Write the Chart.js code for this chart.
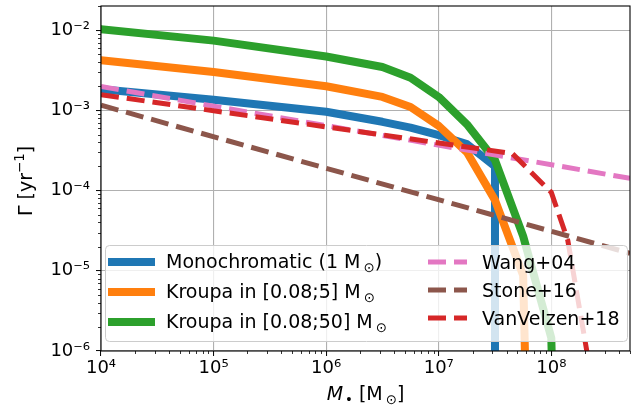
<!DOCTYPE html>
<html>
<head>
<meta charset="utf-8">
<script src="https://cdn.jsdelivr.net/npm/chart.js@4.4.0/dist/chart.umd.min.js"></script>
<style>
    html, body { margin: 0; padding: 0; background: #fff; }
</style>
</head>
<body>
<canvas id="rateChart" width="644" height="408"></canvas>
<script>
// Black hole mass [M_sun] and disruption rate [1/yr] per model
const massMono = [1e4, 1e5, 1e6, 3.16e6, 5.62e6, 1e7, 1.78e7, 3.16e7, 3.16e7];
const rateMono = [1.83e-3, 1.36e-3, 9.6e-4, 7.2e-4, 6.1e-4, 4.9e-4, 3.8e-4, 2.0e-4, 1e-20];

const massKroupa5 = [1e4, 1e5, 1e6, 3.16e6, 5.62e6, 1e7, 1.78e7, 3.16e7, 5.62e7, 1e8];
const rateKroupa5 = [4.22e-3, 3.0e-3, 2.0e-3, 1.47e-3, 1.1e-3, 6.4e-4, 3.0e-4, 7.6e-5, 8.8e-6, 1e-20];

const massKroupa50 = [1e4, 1e5, 1e6, 3.16e6, 5.62e6, 1e7, 1.78e7, 3.16e7, 5.62e7, 1e8, 1.78e8];
const rateKroupa50 = [1.03e-2, 7.4e-3, 4.7e-3, 3.47e-3, 2.55e-3, 1.47e-3, 6.7e-4, 2.4e-4, 2.7e-5, 1.45e-6, 1e-20];

const massWang = [1e4, 5e8];
const rateWang = [1.98e-3, 1.42e-4];

const massStone = [1e4, 5e8];
const rateStone = [1.16e-3, 1.65e-5];

const massVanVelzen = [1e4, 4.5e7, 1e8, 1.4e8, 2.2e8];
const rateVanVelzen = [1.57e-3, 2.9e-4, 9.5e-5, 2.4e-5, 6e-7];

const seriesLabels = ['Monochromatic (1 M⊙)', 'Kroupa in [0.08;5] M⊙', 'Kroupa in [0.08;50] M⊙',
                      'Wang+04', 'Stone+16', 'VanVelzen+18'];

// Axis decades that get a label and a grid line
const xDecades = [1e4, 1e5, 1e6, 1e7, 1e8];
const yDecades = [1e-6, 1e-5, 1e-4, 1e-3, 1e-2];

const FONT = "'DejaVu Sans', sans-serif";
const SUP = {'-': '⁻', '0': '⁰', '1': '¹', '2': '²', '3': '³', '4': '⁴', '5': '⁵', '6': '⁶', '7': '⁷', '8': '⁸', '9': '⁹'};

function isDecade(v) {
    const e = Math.log10(v);
    return Math.abs(e - Math.round(e)) < 1e-9;
}

function decadeLabel(v) {
    const e = String(Math.round(Math.log10(v)));
    return '10' + e.split('').map(c => SUP[c]).join('');
}

// major decades plus 2..9 minor ticks, clipped to the axis range
function logTicks(decades, max) {
    const ticks = [];
    decades.forEach(d => {
        for (let m = 1; m <= 9; m++) {
            const v = m * d;
            if (v <= max * 1.0001) ticks.push({ value: v });
        }
    });
    return ticks;
}

function points(xs, ys) {
    return xs.map((x, i) => ({ x: x, y: ys[i] }));
}

// Draw text made of pieces; sub/sup pieces are smaller and shifted
function drawRich(ctx, parts, x, y, size, measureOnly) {
    let cx = x;
    parts.forEach(p => {
        const s = (p.sub || p.sup) ? size * 0.7 : size;
        ctx.font = (p.italic ? 'italic ' : '') + s + 'px ' + FONT;
        const dy = p.sub ? size * 0.22 : (p.sup ? -size * 0.4 : 0);
        cx += p.gap || 0;
        if (!measureOnly) ctx.fillText(p.t, cx, y + dy);
        cx += ctx.measureText(p.t).width;
    });
    return cx - x;
}

// split a label so the sun symbol is set as a subscript
function solarParts(label, gap) {
    const parts = [];
    label.split('⊙').forEach((chunk, i) => {
        if (i > 0) parts.push({ t: '⊙', sub: true, gap: gap });
        if (chunk) parts.push({ t: chunk });
    });
    return parts;
}

// Legend box inside the plot, two columns like matplotlib's ncol=2
const legendBox = {
    id: 'legendBox',
    afterDatasetsDraw(chart) {
        const ctx = chart.ctx;
        const a = chart.chartArea;
        const left = a.left + 4, right = a.right - 3;
        const bottom = a.bottom - 10, top = bottom - 96;

        ctx.save();
        ctx.beginPath();
        ctx.roundRect(left + 0.5, top + 0.5, right - left, bottom - top, 4);
        ctx.fillStyle = 'rgba(255,255,255,0.8)';
        ctx.fill();
        ctx.strokeStyle = '#cccccc';
        ctx.lineWidth = 1;
        ctx.stroke();

        const cols = [
            { hx: left + 7, tx: left + 61, rows: [17, 47, 77], base: 6 },
            { hx: left + 323, tx: left + 377, rows: [17, 45, 73], base: 7 }
        ];
        chart.data.datasets.forEach((ds, i) => {
            const col = cols[Math.floor(i / 3)];
            const hy = top + col.rows[i % 3];
            ctx.beginPath();
            ctx.strokeStyle = ds.borderColor;
            ctx.lineWidth = ds.borderWidth;
            ctx.lineCap = ds.borderCapStyle;
            ctx.setLineDash(ds.borderDash || []);
            ctx.moveTo(col.hx, hy);
            ctx.lineTo(col.hx + 39, hy);
            ctx.stroke();
            ctx.setLineDash([]);

            ctx.fillStyle = '#000';
            ctx.textBaseline = 'alphabetic';
            ctx.textAlign = 'left';
            drawRich(ctx, solarParts(ds.label, 3), col.tx, hy + col.base, 19);
        });
        ctx.restore();
    }
};

// Axis frame, short minor ticks and the two axis titles
const frameAndTitles = {
    id: 'frameAndTitles',
    afterDraw(chart) {
        const { ctx, chartArea: a, scales: { x, y } } = chart;
        ctx.save();
        ctx.strokeStyle = '#000';
        ctx.lineWidth = 0.8;
        ctx.beginPath();
        x.ticks.forEach(t => {
            if (isDecade(t.value)) return;
            const px = Math.round(x.getPixelForValue(t.value)) + 0.5;
            ctx.moveTo(px, a.bottom);
            ctx.lineTo(px, a.bottom + 3);
        });
        y.ticks.forEach(t => {
            if (isDecade(t.value)) return;
            const py = Math.round(y.getPixelForValue(t.value)) + 0.5;
            ctx.moveTo(a.left, py);
            ctx.lineTo(a.left - 3, py);
        });
        ctx.stroke();

        ctx.lineWidth = 1.1;
        ctx.strokeRect(a.left, a.top, a.right - a.left, a.bottom - a.top);

        ctx.fillStyle = '#000';
        ctx.textBaseline = 'alphabetic';
        ctx.textAlign = 'left';

        // x title: M_bullet [M_sun]
        const xParts = [{ t: 'M', italic: true }, { t: '•', sub: true, gap: 2 }, { t: ' [M' },
                        { t: '⊙', sub: true, gap: 3 }, { t: ']' }];
        const xw = drawRich(ctx, xParts, 0, 0, 19, true);
        drawRich(ctx, xParts, (a.left + a.right) / 2 - xw / 2, 400, 19);

        // y title: Gamma [yr^-1]
        const yParts = [{ t: 'Γ [yr' }, { t: '−1', sup: true }, { t: ']' }];
        const yw = drawRich(ctx, yParts, 0, 0, 19, true);
        ctx.translate(32, 181);
        ctx.rotate(-Math.PI / 2);
        drawRich(ctx, yParts, -yw / 2, 0, 19);
        ctx.restore();
    }
};

function axisOptions(decades, max, size) {
    return {
        type: 'logarithmic',
        afterBuildTicks: scale => { scale.ticks = logTicks(decades, max); },
        afterFit: scale => {
            if (scale.isHorizontal()) scale.height = size;
            else scale.width = size;
            // keep the plot area fixed, labels may overhang
            scale.paddingTop = 0;
            scale.paddingBottom = 0;
            scale.paddingLeft = 0;
            scale.paddingRight = 0;
        },
        border: { display: false },
        grid: {
            color: c => (c.tick && isDecade(c.tick.value)) ? '#b0b0b0' : 'rgba(0,0,0,0)',
            lineWidth: 1.1,
            tickColor: c => (c.tick && isDecade(c.tick.value)) ? '#000' : 'rgba(0,0,0,0)',
            tickLength: 5,
            tickWidth: 1
        },
        ticks: {
            autoSkip: false,
            maxRotation: 0,
            minRotation: 0,
            color: '#000',
            font: { family: FONT, size: 18 },
            callback: v => isDecade(v) ? decadeLabel(v) : ''
        }
    };
}

const solid = { borderWidth: 8, borderCapStyle: 'square', borderJoinStyle: 'round' };
const dashed = { borderWidth: 5, borderCapStyle: 'butt', borderJoinStyle: 'round', borderDash: [18, 8] };

const xOpts = axisOptions(xDecades, 5e8, 57);
xOpts.min = 1e4;
xOpts.max = 5e8;
xOpts.ticks.padding = 2;
const yOpts = axisOptions(yDecades, 2e-2, 101);
yOpts.min = 1e-6;
yOpts.max = 2e-2;
yOpts.ticks.padding = 6;

new Chart(document.getElementById('rateChart'), {
    type: 'line',
    data: {
        datasets: [
            Object.assign({ label: seriesLabels[0], data: points(massMono, rateMono), borderColor: '#1f77b4', order: 6 }, solid),
            Object.assign({ label: seriesLabels[1], data: points(massKroupa5, rateKroupa5), borderColor: '#ff7f0e', order: 5 }, solid),
            Object.assign({ label: seriesLabels[2], data: points(massKroupa50, rateKroupa50), borderColor: '#2ca02c', order: 4 }, solid),
            Object.assign({ label: seriesLabels[3], data: points(massWang, rateWang), borderColor: '#e377c2', order: 3 }, dashed),
            Object.assign({ label: seriesLabels[4], data: points(massStone, rateStone), borderColor: '#8c564b', order: 2 }, dashed),
            Object.assign({ label: seriesLabels[5], data: points(massVanVelzen, rateVanVelzen), borderColor: '#d62728', order: 1 }, dashed)
        ]
    },
    options: {
        responsive: false,
        animation: false,
        layout: { padding: { left: 0, right: 14, top: 6, bottom: 0 } },
        elements: { point: { radius: 0 }, line: { tension: 0, fill: false } },
        datasets: { line: { clip: 0 } },
        plugins: { legend: { display: false }, tooltip: { enabled: false } },
        scales: { x: xOpts, y: yOpts }
    },
    plugins: [legendBox, frameAndTitles]
});
</script>
</body>
</html>
